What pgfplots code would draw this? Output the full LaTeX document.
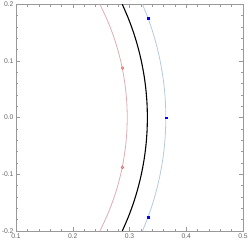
\documentclass[border=0pt]{standalone}
\usepackage{fontspec}
\setmainfont{Liberation Sans}
\usepackage{pgfplots}
\pgfplotsset{compat=1.18}
\definecolor{pinkc}{rgb}{0.87,0.68,0.70}
\definecolor{bluec}{rgb}{0.71,0.79,0.87}
\definecolor{axgray}{rgb}{0.6,0.6,0.6}
\definecolor{labgray}{rgb}{0.4,0.4,0.4}
\begin{document}
\begin{tikzpicture}
\begin{axis}[
  at={(0,0)}, anchor=south west,
  scale only axis, width=227bp, height=226.7bp,
  xmin=0.1, xmax=0.5, ymin=-0.2, ymax=0.2,
  xtick={0.1,0.2,0.3,0.4,0.5},
  ytick={-0.2,-0.1,0,0.1,0.2},
  minor tick num=4,
  tick align=inside,
  major tick length=4bp, minor tick length=2.2bp,
  axis line style={axgray, line width=0.5pt},
  every tick/.style={axgray, line width=0.4pt},
  tick label style={font=\fontsize{6.8}{8}\selectfont, text=labgray},
  xticklabel style={yshift=1bp},
  yticklabel style={xshift=1bp},
  /pgf/number format/assume math mode=true,
  /pgf/number format/fixed, /pgf/number format/fixed zerofill,
  /pgf/number format/precision=1,
  clip=true,
]
\addplot[pinkc, line width=0.8pt, smooth] coordinates {
(0.24780,-0.2)(0.25961,-0.175)(0.26958,-0.15)(0.27783,-0.125)(0.28446,-0.1)(0.28954,-0.075)(0.29314,-0.05)(0.29529,-0.025)(0.2960,0)
(0.29529,0.025)(0.29314,0.05)(0.28954,0.075)(0.28446,0.1)(0.27783,0.125)(0.26958,0.15)(0.25961,0.175)(0.24780,0.2)};
\addplot[black, line width=1.1pt, smooth] coordinates {
(0.28729,-0.2)(0.29805,-0.175)(0.30717,-0.15)(0.31474,-0.125)(0.32084,-0.1)(0.32554,-0.075)(0.32886,-0.05)(0.33084,-0.025)(0.3315,0)
(0.33084,0.025)(0.32886,0.05)(0.32554,0.075)(0.32084,0.1)(0.31474,0.125)(0.30717,0.15)(0.29805,0.175)(0.28729,0.2)};
\addplot[bluec, line width=0.8pt, smooth] coordinates {
(0.32289,-0.2)(0.33284,-0.175)(0.34130,-0.15)(0.34835,-0.125)(0.35404,-0.1)(0.35842,-0.075)(0.36153,-0.05)(0.36338,-0.025)(0.3640,0)
(0.36338,0.025)(0.36153,0.05)(0.35842,0.075)(0.35404,0.1)(0.34835,0.125)(0.34130,0.15)(0.33284,0.175)(0.32289,0.2)};
\addplot[only marks, mark=o, mark size=1.3pt, red!75!white, mark options={line width=0.45pt}] coordinates {(0.2875,0.0876)(0.2875,-0.0876)};
\addplot[only marks, mark=square*, mark size=0.9pt, blue] coordinates {(0.3328,0.175)(0.364,0)(0.3328,-0.175)};
\end{axis}
\pgfresetboundingbox
\useasboundingbox (-16bp,-13bp) rectangle (233bp,231bp);
\end{tikzpicture}
\end{document}
